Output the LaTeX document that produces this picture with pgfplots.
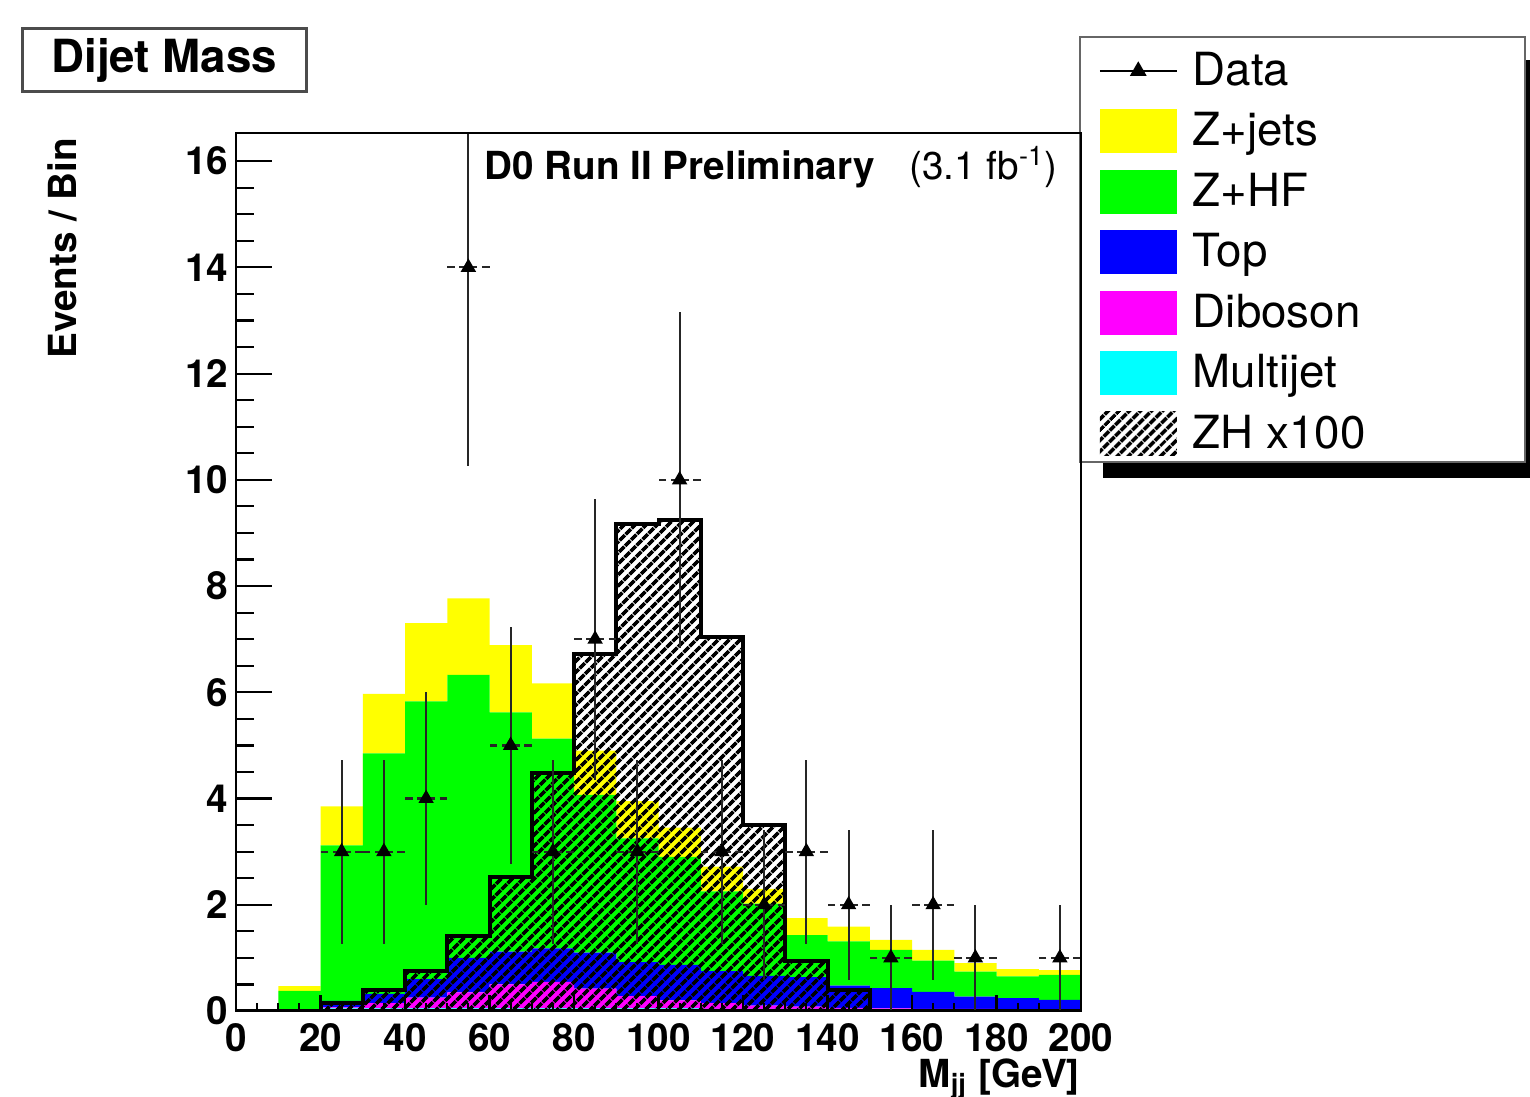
\documentclass[border=0pt]{standalone}
\usepackage{fontspec}
\setmainfont{TeX Gyre Heros}
\usepackage{pgfplots}
\usepackage{pgfplotstable}
\pgfplotsset{compat=1.18}
\usetikzlibrary{patterns.meta}

\definecolor{rYellow}{RGB}{255,255,0}
\definecolor{rGreen}{RGB}{0,255,0}
\definecolor{rBlue}{RGB}{0,0,255}
\definecolor{rMagenta}{RGB}{255,0,255}
\definecolor{rCyan}{RGB}{0,255,255}

% backgrounds per 10 GeV bin (left edge), last row repeats the 190 bin
\pgfplotstableread{
x   mj   db   top  zhf  zj   zh
0   0    0    0    0    0    0
10  0.02 0    0    0.36 0.09 0
20  0.05 0.02 0.12 2.93 0.73 0.15
30  0.05 0.10 0.17 4.53 1.12 0.39
40  0.05 0.20 0.35 5.23 1.47 0.76
50  0.05 0.30 0.65 5.33 1.44 1.42
60  0.05 0.45 0.62 4.50 1.27 2.52
70  0.05 0.50 0.63 3.95 1.04 4.48
80  0.05 0.37 0.68 2.97 0.83 6.72
90  0.05 0.23 0.64 2.33 0.70 9.17
100 0.05 0.15 0.67 2.03 0.55 9.25
110 0.04 0.11 0.60 1.50 0.47 7.05
120 0.04 0.06 0.56 1.36 0.28 3.50
130 0.04 0.04 0.56 0.79 0.32 0.94
140 0.04 0.02 0.42 0.83 0.28 0.40
150 0.03 0.02 0.38 0.72 0.19 0
160 0.03 0.01 0.32 0.59 0.20 0
170 0.03 0.01 0.23 0.47 0.16 0
180 0.03 0    0.21 0.41 0.14 0
190 0.03 0    0.18 0.47 0.09 0
200 0.03 0    0.18 0.47 0.09 0
}\bg

\pgfplotstableread{
x   y  ey
25  3  1.732
35  3  1.732
45  4  2.000
55  14 3.742
65  5  2.236
75  3  1.732
85  7  2.646
95  3  1.732
105 10 3.162
115 3  1.732
125 2  1.414
135 3  1.732
145 2  1.414
155 1  1.000
165 2  1.414
175 1  1.000
195 1  1.000
}\data

\pgfplotsset{
  base/.style={
    width=84.5mm, height=87.8mm, scale only axis,
    at={(23.6mm,8.6mm)}, anchor=south west,
    xmin=0, xmax=200, ymin=0, ymax=16.53,
    tick align=inside, tick pos=left,
    axis line style={line width=0.22mm, black},
    every tick/.style={line width=0.22mm, black},
    tick label style={font=\fontsize{11}{13}\selectfont\bfseries},
    /pgf/number format/assume math mode=true,
    minor tick num=3,
    axis on top,
  },
  boxleg/.style={legend image code/.code={\fill[##1] (0mm,-2.2mm) rectangle (7.7mm,2.2mm);}},
  dataleg/.style={legend image code/.code={\draw[mark repeat=2,mark phase=2,##1] plot coordinates {(0mm,0mm) (3.85mm,0mm) (7.7mm,0mm)};}},
  zhhatch/.style={pattern={Lines[angle=45,distance=0.87mm,line width=0.42mm]}, pattern color=black},
}

\begin{document}
\begin{tikzpicture}
\path[use as bounding box] (0,0) rectangle (153mm,109.7mm);

% title box
\node[draw=black!70, line width=0.25mm, minimum width=28.4mm, minimum height=6.3mm,
      anchor=south west, inner sep=0pt] at (2.1mm,100.4mm)
      {\fontsize{13}{15}\selectfont\bfseries Dijet Mass};

% legend frame with shadow
\fill[black] (110.3mm,61.9mm) rectangle (153mm,103.7mm);
\draw[fill=white, draw=black!60, line width=0.25mm] (108.0mm,63.5mm) rectangle (152.5mm,106.0mm);

% stacked backgrounds
\begin{axis}[base,
  xtick={0,20,...,200}, ytick=\empty,
  major tick length=1.6mm, minor tick length=0.8mm,
  stack plots=y,
  xlabel={M\textsubscript{jj} [GeV]},
  xlabel style={at={(axis description cs:0.9994,-0.0866)}, anchor=base east,
                font=\fontsize{11}{13}\selectfont\bfseries, inner sep=0pt},
]
\addplot[const plot mark left, fill=rCyan, draw=none] table[x=x,y=mj]{\bg} \closedcycle;
\addplot[const plot mark left, fill=rMagenta, draw=none] table[x=x,y=db]{\bg} \closedcycle;
\addplot[const plot mark left, fill=rBlue, draw=none] table[x=x,y=top]{\bg} \closedcycle;
\addplot[const plot mark left, fill=rGreen, draw=none] table[x=x,y=zhf]{\bg} \closedcycle;
\addplot[const plot mark left, fill=rYellow, draw=none] table[x=x,y=zj]{\bg} \closedcycle;
\end{axis}

% signal, data, y axis, legend
\begin{axis}[base,
  xtick=\empty, ytick={0,2,...,16},
  major tick length=3.6mm, minor tick length=1.8mm,
  yticklabel style={inner xsep=0.7mm},
  ylabel={Events / Bin},
  ylabel style={at={(axis description cs:-0.206,0.9954)}, anchor=east,
                font=\fontsize{11}{13}\selectfont\bfseries, inner sep=0pt},
  legend style={at={(axis description cs:0.9988,1.1093)}, anchor=north west,
                draw=none, fill=none, inner xsep=1.8mm, inner ysep=0.3mm,
                font=\fontsize{13}{15}\selectfont, row sep=0pt, column sep=1.5mm,
                nodes={inner sep=0pt, minimum height=6.05mm}},
  legend cell align=left,
]
\addlegendimage{black, line width=0.22mm, mark=triangle*, mark size=0.75mm, dataleg}
\addlegendentry{Data}
\addlegendimage{fill=rYellow, draw=none, boxleg}
\addlegendentry{Z+jets}
\addlegendimage{fill=rGreen, draw=none, boxleg}
\addlegendentry{Z+HF}
\addlegendimage{fill=rBlue, draw=none, boxleg}
\addlegendentry{Top}
\addlegendimage{fill=rMagenta, draw=none, boxleg}
\addlegendentry{Diboson}
\addlegendimage{fill=rCyan, draw=none, boxleg}
\addlegendentry{Multijet}
\addlegendimage{zhhatch, draw=none, boxleg}
\addlegendentry{ZH x100}

\addplot[const plot mark left, draw=black, line width=0.4mm, zhhatch, forget plot]
  table[x=x,y=zh]{\bg} \closedcycle;

\addplot[draw=none, mark=none, forget plot,
  error bars/.cd, y dir=both, y explicit, error mark=none,
  error bar style={line width=0.22mm, black!85, solid}]
  table[x=x, y=y, y error=ey]{\data};
\addplot[draw=none, mark=none, forget plot,
  error bars/.cd, x dir=both, x fixed=5, error mark=none,
  error bar style={line width=0.22mm, black!85, dash pattern=on 0.9mm off 0.45mm}]
  table[x=x, y=y]{\data};
\addplot[draw=none, mark=triangle*, mark size=0.75mm, mark options={black, solid}, forget plot]
  table[x=x, y=y]{\data};

\node[anchor=base west, inner sep=0pt] at (axis cs:58.7,15.65)
  {\fontsize{11}{13}\selectfont\bfseries D0 Run II Preliminary\hspace{0.9em}\mdseries(3.1 fb\textsuperscript{-1})};
\end{axis}
\end{tikzpicture}
\end{document}
